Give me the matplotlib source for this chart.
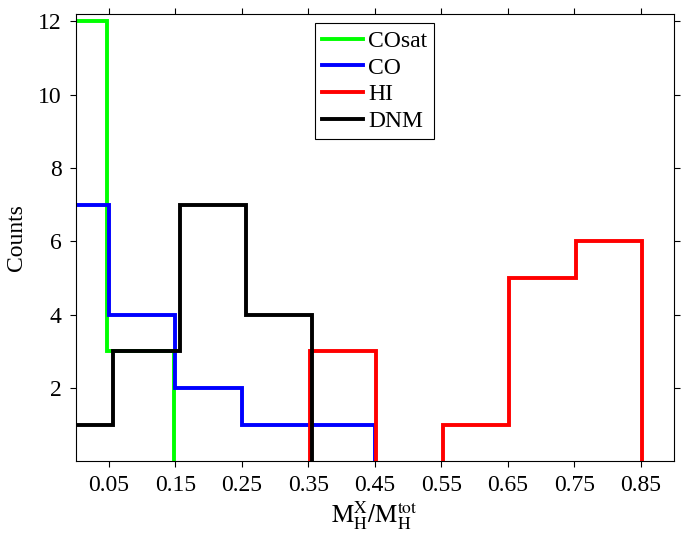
import matplotlib
matplotlib.use("Agg")
import matplotlib.pyplot as plt
import numpy as np

plt.rcParams['font.family'] = ['Liberation Serif', 'DejaVu Serif']
plt.rcParams['mathtext.fontset'] = 'stix'

# histogram bins (edges) and counts per species
cosat_edges = [0.0, 0.05, 0.15]
cosat_counts = [12, 3]
co_edges = [0.0, 0.05, 0.15, 0.25, 0.35, 0.45]
co_counts = [7, 4, 2, 1, 1]
hi_edges = [0.35, 0.45, 0.55, 0.65, 0.75, 0.85]
hi_counts = [3, 0, 1, 5, 6]
dnm_edges = [0.0, 0.05, 0.15, 0.25, 0.35]
dnm_counts = [1, 3, 7, 4]

xtick_vals = [0.05, 0.15, 0.25, 0.35, 0.45, 0.55, 0.65, 0.75, 0.85]
ytick_vals = [2, 4, 6, 8, 10, 12]


def stair_xy(edges, counts, rise):
    # build stairs path, zero bins leave a gap (nothing drawn on the axis)
    xs, ys = [], []
    if rise:
        xs.append(edges[0]); ys.append(0)
    prev_zero = False
    for i, c in enumerate(counts):
        if c == 0:
            xs += [edges[i], np.nan]; ys += [0, np.nan]
            prev_zero = True
            continue
        if prev_zero:
            xs.append(edges[i]); ys.append(0)
        prev_zero = False
        xs += [edges[i], edges[i + 1]]; ys += [c, c]
    xs.append(edges[-1]); ys.append(0)
    return np.array(xs, dtype=float), np.array(ys, dtype=float)


fig = plt.figure(figsize=(6.82, 5.35), dpi=100)
ax = fig.add_axes([0.111, 0.138, 0.877, 0.836])

series = [
    ("COsat", cosat_edges, cosat_counts, (0, 1, 0), -0.0025, False),
    ("CO", co_edges, co_counts, (0, 0, 1), 0.0, False),
    ("HI", hi_edges, hi_counts, (1, 0, 0), 0.0022, True),
    ("DNM", dnm_edges, dnm_counts, (0, 0, 0), 0.0062, False),
]
for name, e, c, col, off, rise in series:
    x, y = stair_xy(e, c, rise)
    x = np.where(x > 0, x + off, x)
    ax.plot(x, y, color=col, lw=2.8, label=name, solid_joinstyle='miter')

ax.set_xlim(0, 0.9)
ax.set_ylim(0, 12.2)
ax.set_xticks(xtick_vals)
ax.set_xticklabels(["%.2f" % v for v in xtick_vals])
ax.set_yticks(ytick_vals)
ax.tick_params(direction='out', length=4, width=0.8, labelsize=17,
               top=True, right=True, pad=6)
for s in ax.spines.values():
    s.set_linewidth(0.8)

ax.set_ylabel("Counts", fontsize=17, labelpad=8)
ax.set_xlabel(r"$\mathrm{M_H^X/M_H^{tot}}$", fontsize=18, labelpad=2)

leg = ax.legend(loc='upper center', fontsize=17, handlelength=1.75,
                handletextpad=0.2, labelspacing=0.22, borderpad=0.3,
                fancybox=False, framealpha=1, edgecolor='black',
                borderaxespad=0.4)
leg.get_frame().set_linewidth(0.8)

fig.savefig("out.png", dpi=100)
